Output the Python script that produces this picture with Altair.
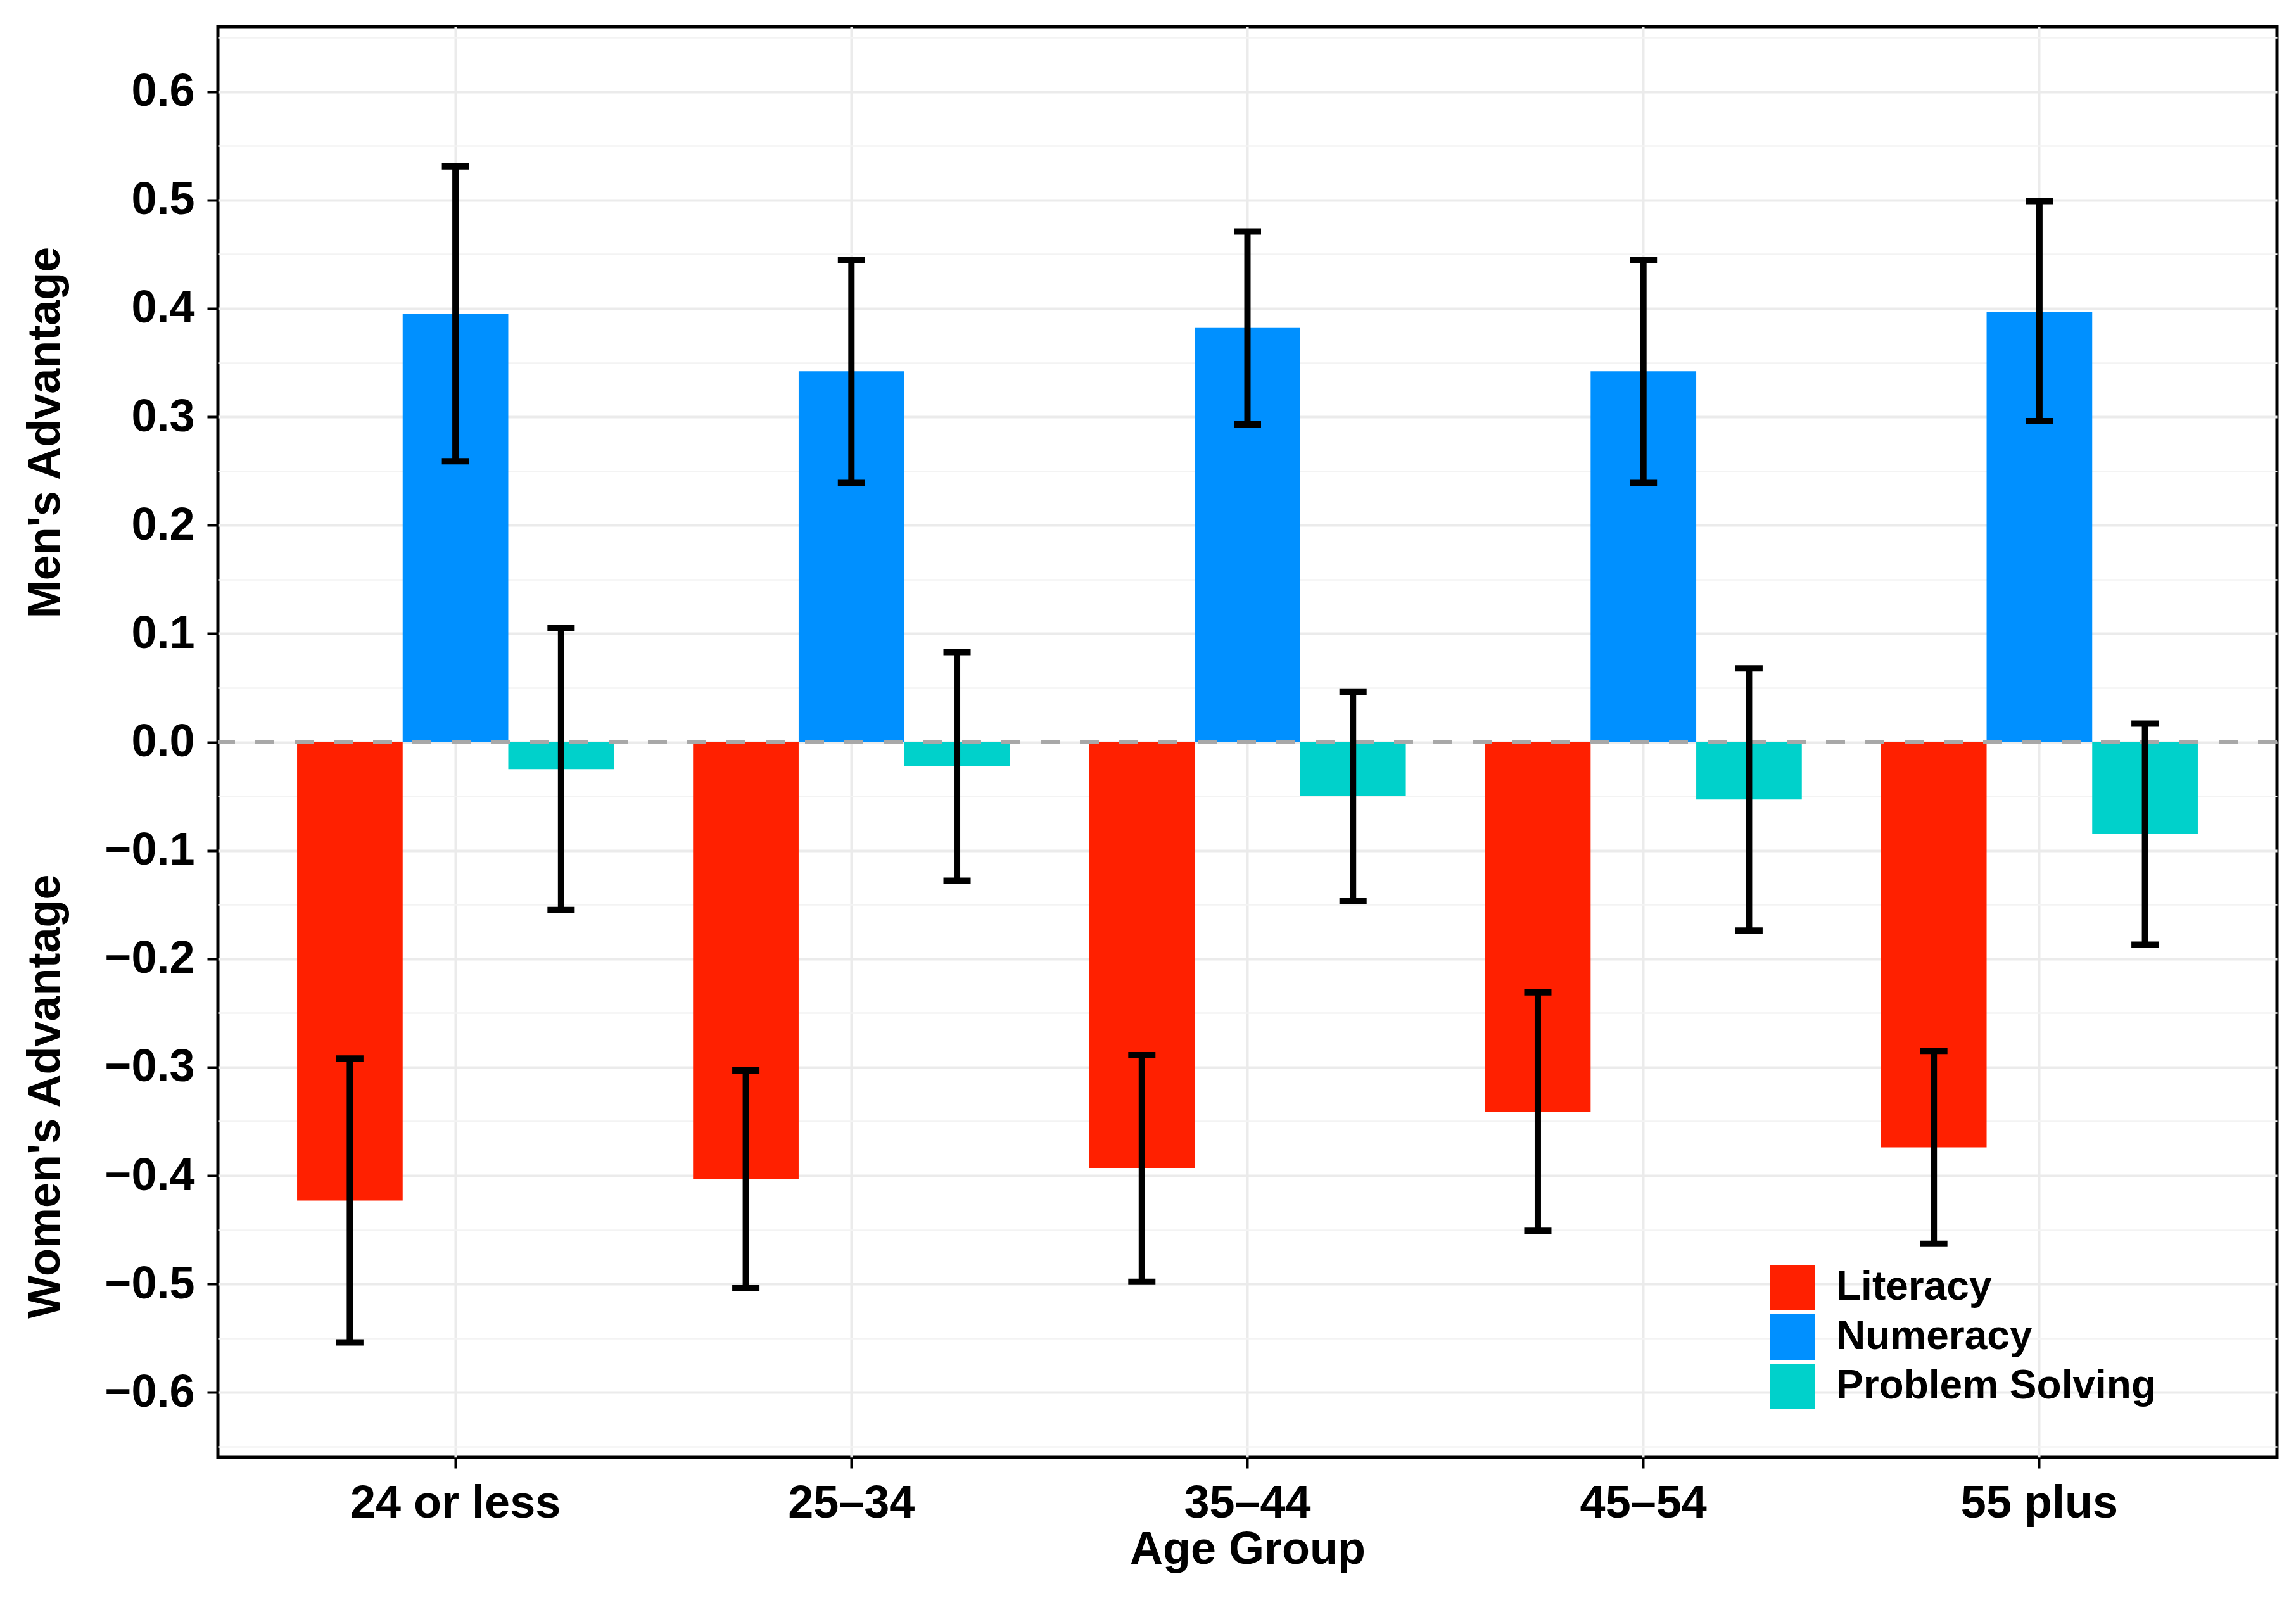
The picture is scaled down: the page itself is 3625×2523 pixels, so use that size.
import altair as alt
import pandas as pd

groups = ["24 or less", "25–34", "35–44", "45–54", "55 plus"]
skills = ["Literacy", "Numeracy", "Problem Solving"]

literacy = [-0.423, -0.403, -0.393, -0.341, -0.374]
numeracy = [0.395, 0.342, 0.382, 0.342, 0.397]
problem = [-0.025, -0.022, -0.050, -0.053, -0.085]

literacy_lo = [-0.554, -0.504, -0.498, -0.451, -0.463]
literacy_hi = [-0.292, -0.303, -0.289, -0.231, -0.285]
numeracy_lo = [0.259, 0.239, 0.293, 0.239, 0.296]
numeracy_hi = [0.531, 0.445, 0.471, 0.445, 0.499]
problem_lo = [-0.155, -0.128, -0.147, -0.174, -0.187]
problem_hi = [0.105, 0.083, 0.046, 0.068, 0.017]

colors = ["#FF2000", "#0090FF", "#00D1CB"]
y_titles = ["Men's Advantage", "Women's Advantage"]
y_tick_values = [-0.65, -0.6, -0.55, -0.5, -0.45, -0.4, -0.35, -0.3, -0.25, -0.2,
                 -0.15, -0.1, -0.05, 0.0, 0.05, 0.1, 0.15, 0.2, 0.25, 0.3, 0.35,
                 0.4, 0.45, 0.5, 0.55, 0.6, 0.65]

rows = []
for vals, lo, hi, name in [
    (literacy, literacy_lo, literacy_hi, "Literacy"),
    (numeracy, numeracy_lo, numeracy_hi, "Numeracy"),
    (problem, problem_lo, problem_hi, "Problem Solving"),
]:
    for g, v, l, h in zip(groups, vals, lo, hi):
        rows.append({"group": g, "skill": name, "value": v, "lo": l, "hi": h})
df = pd.DataFrame(rows)

FONT = "Liberation Sans, Arial, Helvetica, sans-serif"
MAJOR = "abs(round(datum.value*100)) % 10 === 0"

x_enc = alt.X(
    "group:N", sort=groups,
    scale=alt.Scale(paddingInner=0, paddingOuter=0.1),
    axis=alt.Axis(
        title="Age Group", labelAngle=0, domain=False, labelLimit=0,
        labelFont=FONT, labelFontSize=72, labelFontWeight="bold", labelColor="black",
        labelPadding=20,
        titleFont=FONT, titleFontSize=72, titleFontWeight="bold", titleColor="black",
        titlePadding=2,
        ticks=True, tickSize=17, tickWidth=4, tickColor="black",
        grid=True, gridColor="#EBEBEB", gridWidth=4, bandPosition=0.5,
    ),
)
xoff_enc = alt.XOffset("skill:N", sort=skills,
                       scale=alt.Scale(paddingInner=0, paddingOuter=0.375))
y_scale = alt.Scale(domain=[-0.66, 0.66], nice=False, zero=False)
y_axis = alt.Axis(
    title=None, values=y_tick_values, domain=False,
    labelExpr=f"{MAJOR} ? format(datum.value, '.1f') : ''",
    labelFont=FONT, labelFontSize=72, labelFontWeight="bold", labelColor="black",
    labelPadding=20, labelOverlap=False, labelLimit=0,
    tickSize=17, tickWidth=4, tickColor="black",
    tickOpacity={"condition": {"test": MAJOR, "value": 1}, "value": 0},
    grid=True,
    gridColor={"condition": {"test": MAJOR, "value": "#EBEBEB"}, "value": "#F3F3F3"},
    gridWidth={"condition": {"test": MAJOR, "value": 4}, "value": 2.5},
)

base = alt.Chart(df)

bars = base.mark_bar().encode(
    x=x_enc,
    xOffset=xoff_enc,
    y=alt.Y("value:Q", scale=y_scale, axis=y_axis),
    color=alt.Color(
        "skill:N", sort=skills,
        scale=alt.Scale(domain=skills, range=colors),
        legend=alt.Legend(
            title=None, orient="none", legendX=2450, legendY=1955,
            symbolType="square", symbolSize=5184, symbolStrokeWidth=0,
            symbolOpacity=1, padding=0, labelLimit=0,
            labelFont=FONT, labelFontSize=64, labelFontWeight="bold",
            labelColor="black", labelOffset=33, rowPadding=6,
        ),
    ),
)

zero = alt.Chart(pd.DataFrame({"z": [0.0]})).mark_rule(
    color="#A8A8A8", strokeWidth=5, strokeDash=[30, 32]
).encode(y=alt.Y("z:Q", scale=y_scale))

err = base.mark_rule(color="black", strokeWidth=10).encode(
    x=alt.X("group:N", sort=groups), xOffset=xoff_enc,
    y=alt.Y("lo:Q", scale=y_scale), y2="hi:Q",
)
cap_hi = base.mark_tick(color="black", size=43, thickness=10, opacity=1).encode(
    x=alt.X("group:N", sort=groups), xOffset=xoff_enc,
    y=alt.Y("hi:Q", scale=y_scale),
)
cap_lo = base.mark_tick(color="black", size=43, thickness=10, opacity=1).encode(
    x=alt.X("group:N", sort=groups), xOffset=xoff_enc,
    y=alt.Y("lo:Q", scale=y_scale),
)

title_men = alt.Chart(alt.Data(values=[{"t": y_titles[0]}])).mark_text(
    angle=270, font=FONT, fontSize=72, fontWeight="bold", color="black",
    align="center", baseline="middle",
).encode(text="t:N", x=alt.value(-272), y=alt.value(641))
title_women = alt.Chart(alt.Data(values=[{"t": y_titles[1]}])).mark_text(
    angle=270, font=FONT, fontSize=72, fontWeight="bold", color="black",
    align="center", baseline="middle",
).encode(text="t:N", x=alt.value(-272), y=alt.value(1689))

chart = alt.layer(bars, zero, err, cap_hi, cap_lo, title_men, title_women).properties(
    width=3251, height=2259,
    autosize=alt.AutoSizeParams(type="none"),
    padding={"left": 336, "top": 34, "right": 14, "bottom": 200},
    background="white",
).configure_view(
    stroke="black", strokeWidth=5, fill="white"
)

chart.save("out.html", embed_options={"renderer": "svg", "actions": False})
